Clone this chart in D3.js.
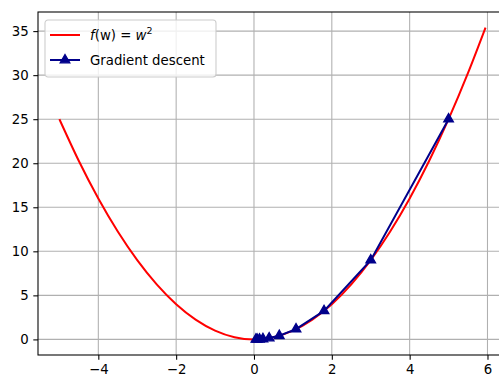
<!DOCTYPE html>
<html>
<head>
<meta charset="utf-8">
<script src="https://cdn.jsdelivr.net/npm/d3@7"></script>
<style>
  body { margin: 0; background: #fff; }
  svg { display: block; font-family: "DejaVu Sans", sans-serif; }
</style>
</head>
<body>
<svg id="chart" width="499" height="379"></svg>
<script>
// curve f(w) = w^2
var curveW = [-5, -4.5, -4, -3.5, -3, -2.5, -2, -1.5, -1, -0.5, 0, 0.5, 1, 1.5, 2, 2.5, 3, 3.5, 4, 4.5, 5, 5.5, 5.95];
var curveF = [25, 20.25, 16, 12.25, 9, 6.25, 4, 2.25, 1, 0.25, 0, 0.25, 1, 2.25, 4, 6.25, 9, 12.25, 16, 20.25, 25, 30.25, 35.4];

// gradient descent steps
var gdW = [5, 3, 1.8, 1.08, 0.65, 0.39, 0.23, 0.14, 0.08, 0.05];
var gdF = [25, 9, 3.24, 1.17, 0.42, 0.15, 0.05, 0.02, 0.007, 0.003];

var xTicks = [-4, -2, 0, 2, 4, 6];
var yTicks = [0, 5, 10, 15, 20, 25, 30, 35];

var svg = d3.select("#chart");
var pLeft = 38, pRight = 505, pTop = 12, pBottom = 355;
var fs = 13.3;

var x = d3.scaleLinear().domain([-5.55, 6.45]).range([pLeft, pRight]);
var y = d3.scaleLinear().domain([-1.77, 37.17]).range([pBottom, pTop]);

var g = svg.append("g");

// grid
g.selectAll(".gx").data(xTicks).enter().append("line")
  .attr("x1", function (d) { return x(d); })
  .attr("x2", function (d) { return x(d); })
  .attr("y1", pTop).attr("y2", pBottom)
  .attr("stroke", "#b0b0b0").attr("stroke-width", 1.07);
g.selectAll(".gy").data(yTicks).enter().append("line")
  .attr("x1", pLeft).attr("x2", pRight)
  .attr("y1", function (d) { return y(d); })
  .attr("y2", function (d) { return y(d); })
  .attr("stroke", "#b0b0b0").attr("stroke-width", 1.07);

// axes
var xAxis = d3.axisBottom(x).tickValues(xTicks).tickSize(4.7).tickPadding(4.7)
  .tickFormat(function (d) { return d < 0 ? "\u2212" + Math.abs(d) : d; });
var yAxis = d3.axisLeft(y).tickValues(yTicks).tickSize(4.7).tickPadding(4.7);

var ax = svg.append("g").attr("transform", "translate(0," + pBottom + ")").call(xAxis);
var ay = svg.append("g").attr("transform", "translate(" + pLeft + ",0)").call(yAxis);
[ax, ay].forEach(function (a) {
  a.select(".domain").remove();
  a.selectAll("text").attr("font-size", fs).attr("fill", "#000").attr("font-family", "DejaVu Sans");
  a.selectAll("line").attr("stroke", "#000").attr("stroke-width", 1.07);
});

// curve
var curvePts = curveW.map(function (w, i) { return [w, curveF[i]]; });
var line = d3.line()
  .x(function (d) { return x(d[0]); })
  .y(function (d) { return y(d[1]); })
  .curve(d3.curveNatural);

svg.append("path").datum(curvePts)
  .attr("d", line)
  .attr("fill", "none").attr("stroke", "red").attr("stroke-width", 2);

// gradient descent
var gdPts = gdW.map(function (w, i) { return [w, gdF[i]]; });
var gdLine = d3.line()
  .x(function (d) { return x(d[0]); })
  .y(function (d) { return y(d[1]); });

svg.append("path").datum(gdPts)
  .attr("d", gdLine)
  .attr("fill", "none").attr("stroke", "darkblue").attr("stroke-width", 2);

var tri = d3.symbol().type(d3.symbolTriangle).size(40);
svg.selectAll(".mk").data(gdPts).enter().append("path")
  .attr("d", tri)
  .attr("transform", function (d) { return "translate(" + x(d[0]) + "," + y(d[1]) + ")"; })
  .attr("fill", "darkblue").attr("stroke", "darkblue").attr("stroke-width", 1.3);

// frame
svg.append("rect")
  .attr("x", pLeft).attr("y", pTop)
  .attr("width", pRight - pLeft).attr("height", pBottom - pTop)
  .attr("fill", "none").attr("stroke", "#000").attr("stroke-width", 1.07);

// legend
var lg = svg.append("g").attr("transform", "translate(45,20)");
lg.append("rect")
  .attr("width", 171).attr("height", 57).attr("rx", 3)
  .attr("fill", "#fff").attr("fill-opacity", 0.8)
  .attr("stroke", "#cccccc").attr("stroke-width", 1.07);

lg.append("line").attr("x1", 5).attr("x2", 35).attr("y1", 15).attr("y2", 15)
  .attr("stroke", "red").attr("stroke-width", 2);
var t1 = lg.append("text").attr("x", 45).attr("y", 20).attr("font-size", fs);
t1.append("tspan").attr("font-style", "italic").text("f");
t1.append("tspan").text("(w) = ");
t1.append("tspan").attr("font-style", "italic").text("w");
t1.append("tspan").attr("dy", -6).attr("font-size", 9.5).text("2");

lg.append("line").attr("x1", 5).attr("x2", 35).attr("y1", 40).attr("y2", 40)
  .attr("stroke", "darkblue").attr("stroke-width", 2);
lg.append("path").attr("d", tri).attr("transform", "translate(20,40)")
  .attr("fill", "darkblue").attr("stroke", "darkblue").attr("stroke-width", 1.3);
lg.append("text").attr("x", 45).attr("y", 45).attr("font-size", fs).text("Gradient descent");
</script>
</body>
</html>
